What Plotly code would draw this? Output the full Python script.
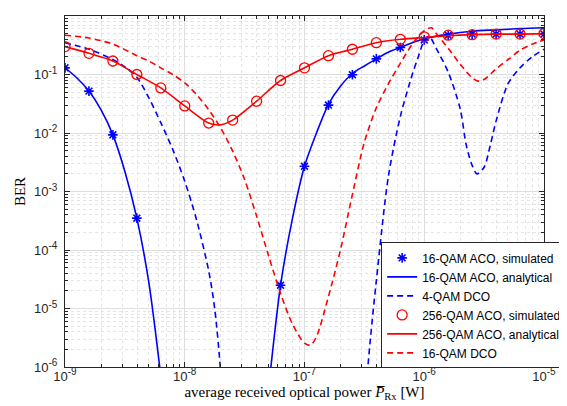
import plotly.graph_objects as go

# ---------------- data ----------------
# simulated points: received optical power [W]
p_sim = [1.000e-9, 1.585e-9, 2.512e-9, 3.981e-9, 6.310e-9,
         1.000e-8, 1.585e-8, 2.512e-8, 3.981e-8, 6.310e-8,
         1.000e-7, 1.585e-7, 2.512e-7, 3.981e-7, 6.310e-7,
         1.000e-6, 1.585e-6, 2.512e-6, 3.981e-6, 6.310e-6, 1.000e-5]

# 16-QAM ACO simulated (None = no errors counted)
aco16_sim = [0.13, 0.052, 0.0093, 3.5e-4, None,
             None, None, None, None, 2.5e-5,
             2.7e-3, 0.030, 0.099, 0.185, 0.29,
             0.39, 0.47, 0.49, 0.49, 0.49, 0.49]

# 256-QAM ACO simulated
aco256_sim = [0.30, 0.23, 0.17, 0.10, 0.059,
              0.029, 0.0148, 0.0166, 0.035, 0.079,
              0.13, 0.21, 0.27, 0.35, 0.40,
              0.44, 0.47, 0.48, 0.49, 0.49, 0.50]

# 16-QAM ACO analytical (log10 of power, BER)
aco16_logp = [-9.0, -8.9, -8.8, -8.7, -8.6, -8.5, -8.4, -8.3, -8.2, -8.1,
              None,
              -7.4, -7.3, -7.2, -7.1, -7.0, -6.9, -6.8, -6.7, -6.6, -6.5,
              -6.4, -6.3, -6.2, -6.1, -6.0, -5.8, -5.6, -5.4, -5.2, -5.0]
aco16_ana = [0.13, 0.087, 0.052, 0.025, 0.0093, 2.2e-3, 3.5e-4, 2.8e-5, 7e-7, 1e-8,
             None,
             8e-9, 4.5e-7, 2.5e-5, 3.5e-4, 2.7e-3, 0.0100, 0.031, 0.063, 0.104, 0.14,
             0.185, 0.24, 0.29, 0.35, 0.41, 0.49, 0.55, 0.58, 0.61, 0.63]

# 4-QAM DCO
dco4_logp = [-9.0, -8.8, -8.6, -8.5, -8.4, -8.3, -8.2, -8.1, -8.0, -7.9,
             -7.8, -7.75, -7.7, -7.65,
             None,
             -6.55, -6.5, -6.45, -6.4, -6.3, -6.2, -6.1, -6.05, -6.0, -5.96,
             -5.9, -5.8, -5.7, -5.65, -5.6, -5.56, -5.5, -5.45, -5.4, -5.3,
             -5.2, -5.1, -5.0]
dco4_ber = [0.35, 0.27, 0.18, 0.135, 0.09, 0.040, 0.0150, 5.2e-3, 1.5e-3, 3.2e-4,
            4.4e-5, 1.0e-5, 8e-7, 1e-8,
            None,
            1e-8, 2e-7, 3e-6, 3e-5, 1.8e-3, 0.019, 0.10, 0.20, 0.38, 0.45,
            0.28, 0.11, 0.026, 6.3e-3, 2.8e-3, 2.0e-3, 2.6e-3, 6.0e-3, 0.016, 0.07,
            0.13, 0.20, 0.27]

# 256-QAM ACO analytical
aco256_logp = [-9.0, -8.8, -8.6, -8.4, -8.2, -8.0, -7.8, -7.7, -7.6, -7.4,
               -7.2, -7.0, -6.8, -6.6, -6.4, -6.2, -6.0, -5.8, -5.6, -5.4,
               -5.2, -5.0]
aco256_ana = [0.30, 0.23, 0.17, 0.10, 0.059, 0.029, 0.0148, 0.0138, 0.0166, 0.035,
              0.079, 0.13, 0.21, 0.27, 0.35, 0.40, 0.43, 0.46, 0.48, 0.49,
              0.49, 0.50]

# 16-QAM DCO
dco16_logp = [-9.0, -8.8, -8.6, -8.4, -8.3, -8.2, -8.1, -8.0, -7.9, -7.8,
              -7.7, -7.6, -7.5, -7.4, -7.3, -7.2, -7.1, -7.0, -6.95, -6.9,
              -6.8, -6.7, -6.6, -6.5, -6.4, -6.3, -6.2, -6.1, -6.0, -5.94,
              -5.9, -5.8, -5.7, -5.6, -5.55, -5.5, -5.4, -5.3, -5.2, -5.1, -5.0]
dco16_ber = [0.47, 0.42, 0.33, 0.21, 0.17, 0.13, 0.10, 0.072, 0.045, 0.025,
             0.0122, 4.9e-3, 1.6e-3, 3.8e-4, 8e-5, 1.8e-5, 5.4e-6, 2.55e-6, 2.35e-6, 3.3e-6,
             1.6e-5, 1.0e-4, 8.9e-4, 7e-3, 0.027, 0.069, 0.155, 0.33, 0.56, 0.63,
             0.50, 0.28, 0.15, 0.088, 0.077, 0.082, 0.125, 0.18, 0.26, 0.33, 0.39]

x_tick_vals = [1e-9, 1e-8, 1e-7, 1e-6, 1e-5]
x_exponents = ["-9", "-8", "-7", "-6", "-5"]
y_tick_vals = [1e-6, 1e-5, 1e-4, 1e-3, 1e-2, 1e-1, 1e0]
y_exponents = ["-6", "-5", "-4", "-3", "-2", "-1", "0"]


def power_label(exp):
    return '10<sup><span style="font-size:10px">' + exp + '</span></sup>'


def to_power(logs):
    return [None if v is None else 10 ** v for v in logs]


BLUE = "#0000FF"
RED = "#FF0000"
DASH = "6px,4px"

fig = go.Figure()

fig.add_trace(go.Scatter(
    x=p_sim, y=aco16_sim, mode="markers", name="16-QAM ACO, simulated",
    marker=dict(symbol="asterisk-open", size=8, color=BLUE,
                line=dict(color=BLUE, width=1.6))))
fig.add_trace(go.Scatter(
    x=to_power(aco16_logp), y=aco16_ana, mode="lines", name="16-QAM ACO, analytical",
    line=dict(color=BLUE, width=1.6, shape="spline", smoothing=0.8)))
fig.add_trace(go.Scatter(
    x=to_power(dco4_logp), y=dco4_ber, mode="lines", name="4-QAM DCO",
    line=dict(color=BLUE, width=1.6, dash=DASH, shape="spline", smoothing=0.8)))
fig.add_trace(go.Scatter(
    x=p_sim, y=aco256_sim, mode="markers", name="256-QAM ACO, simulated",
    marker=dict(symbol="circle-open", size=10, color=RED,
                line=dict(color=RED, width=1.3))))
fig.add_trace(go.Scatter(
    x=to_power(aco256_logp), y=aco256_ana, mode="lines", name="256-QAM ACO, analytical",
    line=dict(color=RED, width=1.6, shape="spline", smoothing=0.8)))
fig.add_trace(go.Scatter(
    x=to_power(dco16_logp), y=dco16_ber, mode="lines", name="16-QAM DCO",
    line=dict(color=RED, width=1.6, dash=DASH, shape="spline", smoothing=0.8)))

AX = "#262626"
tickfont = dict(family="Liberation Sans, Arial, sans-serif", size=13, color=AX)
titlefont = dict(family="Liberation Serif, Times New Roman, serif", size=15, color="#000000")

common = dict(
    type="log", showline=True, linecolor=AX, linewidth=1, mirror="allticks",
    ticks="inside", ticklen=5, tickcolor=AX, tickwidth=1,
    showgrid=True, gridcolor="#dedede", gridwidth=1,
    tickfont=tickfont, zeroline=False,
    minor=dict(ticks="inside", ticklen=3, tickcolor=AX, showgrid=True,
               gridcolor="#e4e4e4", griddash="dot", gridwidth=1, dtick="D1"),
)

fig.update_xaxes(
    range=[-9, -5], tickmode="array", tickvals=x_tick_vals,
    ticktext=[power_label(e) for e in x_exponents], ticklabelstandoff=-3,
    title=dict(text="average received optical power <i>P\u0305</i><sub>Rx</sub> [W]",
               font=titlefont, standoff=2),
    **common)
fig.update_yaxes(
    range=[-6, 0], tickmode="array", tickvals=y_tick_vals,
    ticktext=[power_label(e) for e in y_exponents], ticklabelstandoff=4,
    title=dict(text="BER", font=titlefont, standoff=4),
    **common)

fig.update_layout(
    width=567, height=406,
    margin=dict(l=57, r=31, t=8, b=47),
    paper_bgcolor="white", plot_bgcolor="white",
    showlegend=True,
    legend=dict(x=0.66, y=0.355, xanchor="left", yanchor="top",
                bgcolor="white", bordercolor=AX, borderwidth=1,
                font=dict(family="Liberation Sans, Arial, sans-serif", size=12, color="#000000"),
                tracegroupgap=0, itemwidth=30),
)

fig.write_html("out.html")
